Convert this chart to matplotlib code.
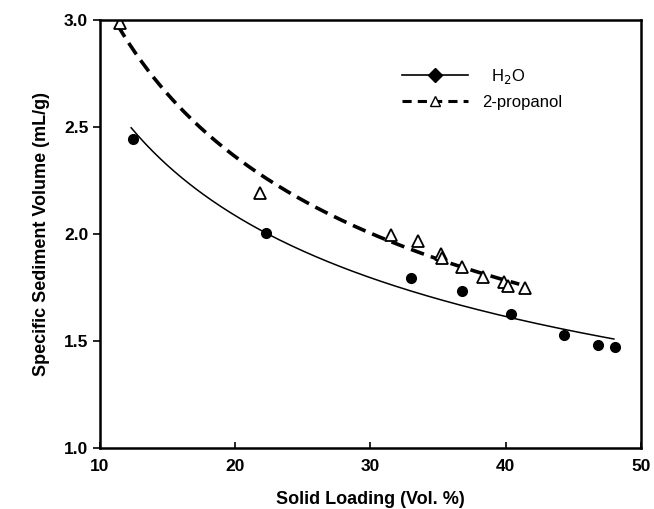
import numpy as np
import matplotlib
matplotlib.use("Agg")
import matplotlib.pyplot as plt
from matplotlib.lines import Line2D

plt.rcParams['font.family'] = ['Liberation Sans', 'DejaVu Sans']

# H2O data
h2o_x = [12.4, 22.3, 33.0, 36.8, 40.4, 44.3, 46.8, 48.1]
h2o_y = [2.444, 2.005, 1.794, 1.733, 1.626, 1.528, 1.481, 1.472]
# 2-propanol data
prop_x = [11.5, 21.85, 31.5, 33.5, 35.2, 35.3, 36.8, 38.3, 39.9, 40.2, 41.4]
prop_y = [2.985, 2.19, 1.993, 1.967, 1.905, 1.885, 1.846, 1.80, 1.775, 1.755, 1.748]
# trendline ranges
h2o_range = [12.3, 48.0]
prop_range = [11.3, 41.0]

fig = plt.figure(figsize=(6.54, 5.09), dpi=100)
ax = fig.add_axes([0.153, 0.12, 0.827, 0.841])

def power_fit(x, y, rng):
    b, lna = np.polyfit(np.log(x), np.log(y), 1)
    xs = np.linspace(rng[0], rng[1], 200)
    return xs, np.exp(lna) * xs ** b

xs, ys = power_fit(h2o_x, h2o_y, h2o_range)
ax.plot(xs, ys, '-', color='black', lw=1.1)
xs, ys = power_fit(prop_x, prop_y, prop_range)
ax.plot(xs, ys, '--', color='black', lw=2.6, dashes=(3.8, 2))

ax.plot(h2o_x, h2o_y, 'o', color='black', ms=7, ls='none')
ax.plot(prop_x, prop_y, '^', mfc='white', mec='black', mew=1.3, ms=8, ls='none')

ax.set_xlim(10, 50)
ax.set_ylim(1.0, 3.0)
ax.set_xticks([10, 20, 30, 40, 50])
ax.set_yticks([1.0, 1.5, 2.0, 2.5, 3.0])
ax.set_yticklabels(['1.0', '1.5', '2.0', '2.5', '3.0'])
ax.tick_params(axis='x', direction='in', length=4, width=1.2, labelsize=12.5, pad=8)
ax.tick_params(axis='y', direction='out', length=5, width=1.2, labelsize=12.5)
for lab in ax.get_xticklabels() + ax.get_yticklabels():
    lab.set_fontweight('bold')
for s in ax.spines.values():
    s.set_linewidth(1.8)

ax.set_xlabel('Solid Loading (Vol. %)', fontsize=13, fontweight='bold', labelpad=12)
ax.set_ylabel('Specific Sediment Volume (mL/g)', fontsize=13, fontweight='bold', labelpad=10)

handles = [
    Line2D([], [], color='black', lw=1.2, marker='D', ms=7),
    Line2D([], [], color='black', lw=2.2, ls='--', dashes=(3, 2), marker='^', mfc='white', mec='black', ms=7),
]
ax.legend(handles, ['  H$_2$O', '2-propanol'], loc='upper left', bbox_to_anchor=(0.53, 0.925),
          frameon=False, fontsize=12, handlelength=4.0, labelspacing=0.55)

fig.savefig('out.png', dpi=100)
